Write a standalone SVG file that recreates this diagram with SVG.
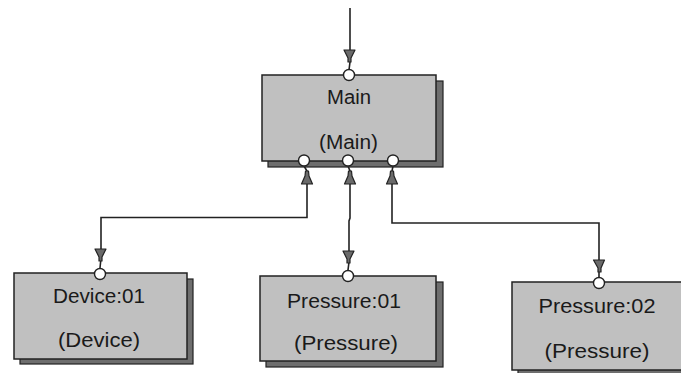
<svg xmlns="http://www.w3.org/2000/svg" width="681" height="373" viewBox="0 0 681 373">
  <style>
    .box { fill: #c0c0c0; stroke: #222; stroke-width: 1.5; }
    .shadow { fill: #6e6e6e; stroke: #222; stroke-width: 1.2; }
    .port { fill: #fff; stroke: #222; stroke-width: 1.4; }
    .wire { fill: none; stroke: #222; stroke-width: 1.6; }
    .head { fill: #6a6a6a; stroke: #222; stroke-width: 1.2; stroke-linejoin: round; }
    .label { font-family: "Liberation Sans", Arial, sans-serif; font-size: 19.5px; fill: #1a1a1a; text-anchor: middle; }
  </style>
  <rect width="681" height="373" fill="#fff"/>

  <g id="connectors">
    <!-- incoming to Main -->
    <path class="wire" d="M350 8 V62 L349 70"/>
    <polygon class="head" points="344,50 355,50 351,58 351,62 348,62 348,58"/>
    <!-- Main to Device:01 -->
    <path class="wire" d="M304 166 L307 171 V217.5 H101 V258 L100 268"/>
    <polygon class="head" points="301.5,184 312.5,184 309,176 308.5,171 305.5,171 305,176"/>
    <polygon class="head" points="95,249 106,249 102,257 102,261 99,261 99,257"/>
    <!-- Main to Pressure:01 -->
    <path class="wire" d="M348 166 L350 171 V218 L349 221 V262 L348 270"/>
    <polygon class="head" points="344.5,184 355.5,184 352,176 351.5,171 348.5,171 348,176"/>
    <polygon class="head" points="343,251 354,251 350,259 350,263 347,263 347,259"/>
    <!-- Main to Pressure:02 -->
    <path class="wire" d="M393 166 L392 171 V223 H599 V270 L599 277"/>
    <polygon class="head" points="386.5,184 397.5,184 394,176 393.5,171 390.5,171 390,176"/>
    <polygon class="head" points="593.5,260 604.5,260 601,268 601,272 598,272 598,268"/>
  </g>

  <g id="main">
    <rect class="shadow" x="268" y="81" width="175" height="86"/>
    <rect class="box" x="262" y="75" width="174" height="86"/>
    <text class="label" x="349" y="103.5" textLength="44" lengthAdjust="spacingAndGlyphs">Main</text>
    <text class="label" x="348.5" y="148.5" textLength="59" lengthAdjust="spacingAndGlyphs">(Main)</text>
    <circle class="port" cx="349" cy="75" r="5.5"/>
    <circle class="port" cx="304" cy="160.5" r="5.5"/>
    <circle class="port" cx="348" cy="160.5" r="5.5"/>
    <circle class="port" cx="393" cy="160.5" r="5.5"/>
  </g>

  <g id="device01">
    <rect class="shadow" x="20" y="279" width="173" height="85"/>
    <rect class="box" x="14" y="273" width="173" height="86"/>
    <text class="label" x="99" y="303" textLength="92" lengthAdjust="spacingAndGlyphs">Device:01</text>
    <text class="label" x="99" y="347" textLength="82" lengthAdjust="spacingAndGlyphs">(Device)</text>
    <circle class="port" cx="100" cy="274" r="5.5"/>
  </g>

  <g id="pressure01">
    <rect class="shadow" x="266" y="282" width="177" height="85"/>
    <rect class="box" x="260" y="276" width="176" height="85"/>
    <text class="label" x="344" y="307.5" textLength="114" lengthAdjust="spacingAndGlyphs">Pressure:01</text>
    <text class="label" x="346" y="349.5" textLength="104" lengthAdjust="spacingAndGlyphs">(Pressure)</text>
    <circle class="port" cx="348" cy="276" r="5.5"/>
  </g>

  <g id="pressure02">
    <rect class="shadow" x="518" y="288" width="177" height="88"/>
    <rect class="box" x="512" y="282" width="177" height="88"/>
    <text class="label" x="597" y="312.5" textLength="117" lengthAdjust="spacingAndGlyphs">Pressure:02</text>
    <text class="label" x="597" y="357.5" textLength="105" lengthAdjust="spacingAndGlyphs">(Pressure)</text>
    <circle class="port" cx="599" cy="283" r="5.5"/>
  </g>
</svg>
